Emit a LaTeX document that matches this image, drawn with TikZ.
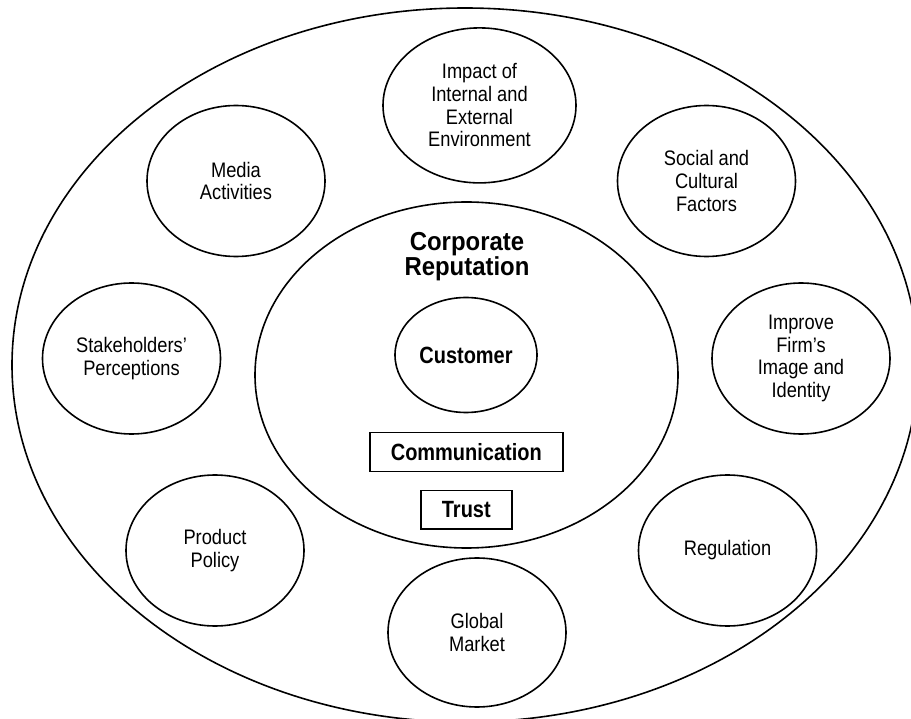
\documentclass[tikz,border=0pt]{standalone}
\usepackage{fontspec}
\setmainfont{Liberation Sans}
\newfontfamily\plainlab[FakeStretch=0.87]{Liberation Sans}
\newfontfamily\boldlab[FakeStretch=0.85]{Liberation Sans}
\newfontfamily\titlelab[FakeStretch=0.92]{Liberation Sans}
\usetikzlibrary{shapes.geometric}
\begin{document}
\begin{tikzpicture}[x=1pt,y=-1pt,
  ring/.style={ellipse, draw, line width=1.6pt, inner sep=0pt, align=center,
    font=\plainlab\fontsize{21}{22.7}\selectfont},
  factor/.style={ring, minimum width=178pt, minimum height=151pt},
  tag/.style={rectangle, draw, line width=1.5pt, inner sep=0pt,
    font=\boldlab\bfseries\fontsize{23.5}{25}\selectfont}]
\useasboundingbox (0,0) rectangle (911,719);
\clip (0,0) rectangle (911,719);

% outer frame
\node[ring, minimum width=906pt, minimum height=714pt] (frame) at (465,365) {};

% surrounding factors
\node[ring, minimum width=193pt, minimum height=155pt] (impact) at (479.5,105.4)
  {Impact of\\Internal and\\External\\Environment};
\node[factor] (media) at (236,181) {Media\\Activities};
\node[factor] (social) at (706.5,181) {Social and\\Cultural\\Factors};
\node[factor] (stake) at (131.5,358.5) {Stakeholders’\\Perceptions};
\node[factor] (improve) at (801,358.5) {Improve\\Firm’s\\Image and\\Identity};
\node[factor] (product) at (215,550.5) {Product\\Policy};
\node[factor] (regulation) at (727.5,550.5) {Regulation};
\node[factor, minimum height=149pt] (global) at (477,632.5) {Global\\Market};

% core: corporate reputation
\node[ring, minimum width=423pt, minimum height=346pt] (core) at (466.5,375) {};
\node[align=center, inner sep=0pt,
  font=\titlelab\bfseries\fontsize{26}{24}\selectfont] (title) at (467,257)
  {Corporate\\Reputation};
\node[ring, minimum width=142pt, minimum height=115pt,
  font=\boldlab\bfseries\fontsize{23.5}{25}\selectfont] (customer) at (466,355) {Customer};
\node[tag, minimum width=193pt, minimum height=39pt] (comm) at (466.3,452.2) {Communication};
\node[tag, minimum width=91pt, minimum height=38.5pt] (trust) at (466.3,509.8) {Trust};
\end{tikzpicture}
\end{document}
